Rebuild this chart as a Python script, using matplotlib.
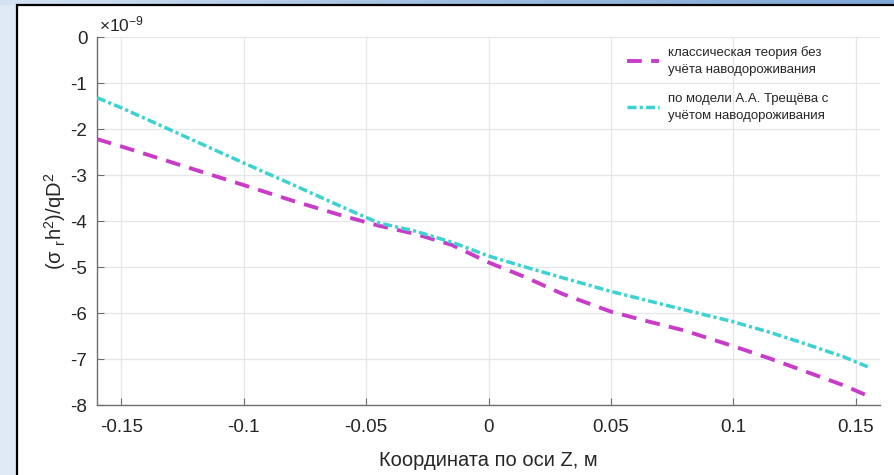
import numpy as np
import matplotlib
matplotlib.use("Agg")
import matplotlib.pyplot as plt
from matplotlib.patches import Rectangle

# coordinate along Z, m
z_coord = [-0.16, -0.15, -0.125, -0.1, -0.08, -0.06, -0.045, -0.03, -0.015, 0.0,
           0.015, 0.03, 0.05, 0.065, 0.08, 0.1, 0.115, 0.13, 0.145, 0.155]

# classical theory, no hydrogenation (x1e-9)
sigma_classic = [-2.22, -2.38, -2.80, -3.22, -3.56, -3.88, -4.10, -4.28, -4.52, -4.90,
                 -5.22, -5.58, -5.97, -6.18, -6.38, -6.72, -6.99, -7.28, -7.57, -7.80]

# Treshchev model with hydrogenation (x1e-9)
sigma_treshchev = [-1.32, -1.54, -2.14, -2.74, -3.21, -3.69, -4.04, -4.22, -4.46, -4.76,
                   -5.00, -5.23, -5.53, -5.73, -5.93, -6.19, -6.42, -6.68, -6.95, -7.17]

x_ticks = [-0.15, -0.1, -0.05, 0, 0.05, 0.1, 0.15]
x_ticklabels = ["-0.15", "-0.1", "-0.05", "0", "0.05", "0.1", "0.15"]
y_ticks = [0, -1, -2, -3, -4, -5, -6, -7, -8]

label_classic = "классическая теория без\nучёта наводороживания"
label_treshchev = "по модели А.А. Трещёва с\nучётом наводороживания"

plt.rcParams["font.family"] = ["Liberation Sans", "DejaVu Sans"]
plt.rcParams["mathtext.fontset"] = "custom"
plt.rcParams["mathtext.rm"] = "Liberation Sans"
plt.rcParams["mathtext.it"] = "Liberation Sans"
plt.rcParams["mathtext.default"] = "regular"

fig = plt.figure(figsize=(8.94, 4.75), dpi=100)
fig.patch.set_facecolor("#dfe9f5")

# background layer: white panel with black frame and blue strip on top
bg = fig.add_axes([0, 0, 1, 1], zorder=-5)
bg.add_patch(Rectangle((17, 5), 900, 480, facecolor="white",
                       edgecolor="black", linewidth=1.6))
grad = np.linspace(0, 1, 256)[None, :]
bg.imshow(grad, extent=(0, 894, 5, 0), aspect="auto",
          cmap=matplotlib.colors.LinearSegmentedColormap.from_list(
              "band", ["#d4e3f3", "#9fbfe2", "#7fa8d8"]))
bg.set_xlim(0, 894)
bg.set_ylim(475, 0)
bg.axis("off")

ax = fig.add_axes([97 / 894, 1 - 405 / 475, 783 / 894, 368 / 475])
ax.set_facecolor("none")

ax.plot(z_coord, sigma_classic, color="#c83cc8", linewidth=2.8,
        dashes=(3.8, 2.4), label=label_classic, zorder=3)
ax.plot(z_coord, sigma_treshchev, color="#3cd2d2", linewidth=2.5,
        dashes=(2.6, 0.9, 0.9, 0.9), label=label_treshchev, zorder=4)

ax.set_xlim(-0.16, 0.16)
ax.set_ylim(-8, 0)
ax.set_xticks(x_ticks)
ax.set_xticklabels(x_ticklabels)
ax.set_yticks(y_ticks)
ax.set_yticklabels([str(v) for v in y_ticks])

ax.grid(True, color="#e4e6ea", linewidth=0.9)
ax.set_axisbelow(True)
for side in ["top", "right"]:
    ax.spines[side].set_visible(False)
for side in ["left", "bottom"]:
    ax.spines[side].set_color("#6e6e6e")
    ax.spines[side].set_linewidth(1.0)
ax.tick_params(direction="in", length=5, width=0.8, color="#6e6e6e",
               labelsize=13.5, labelcolor="#262626", pad=10)
ax.tick_params(axis="y", pad=7)

ax.set_xlabel("Координата по оси Z, м", fontsize=14.5, color="#262626", labelpad=11)
ax.set_ylabel(r"$(\sigma\ _r h^2)/qD^2$", fontsize=14.5, color="#262626", labelpad=2)

ax.text(0.003, 1.008, r"$\times10^{-9}$", transform=ax.transAxes, fontsize=12.5,
        color="#262626", ha="left", va="bottom")

leg = ax.legend(loc="upper left", bbox_to_anchor=(0.665, 1.0), frameon=False,
                fontsize=9.5, handlelength=2.4, handletextpad=0.7,
                labelspacing=1.25, borderpad=0.2)
for t in leg.get_texts():
    t.set_color("#262626")
    t.set_linespacing(1.55)

fig.savefig("out.png", dpi=100, facecolor=fig.get_facecolor())
